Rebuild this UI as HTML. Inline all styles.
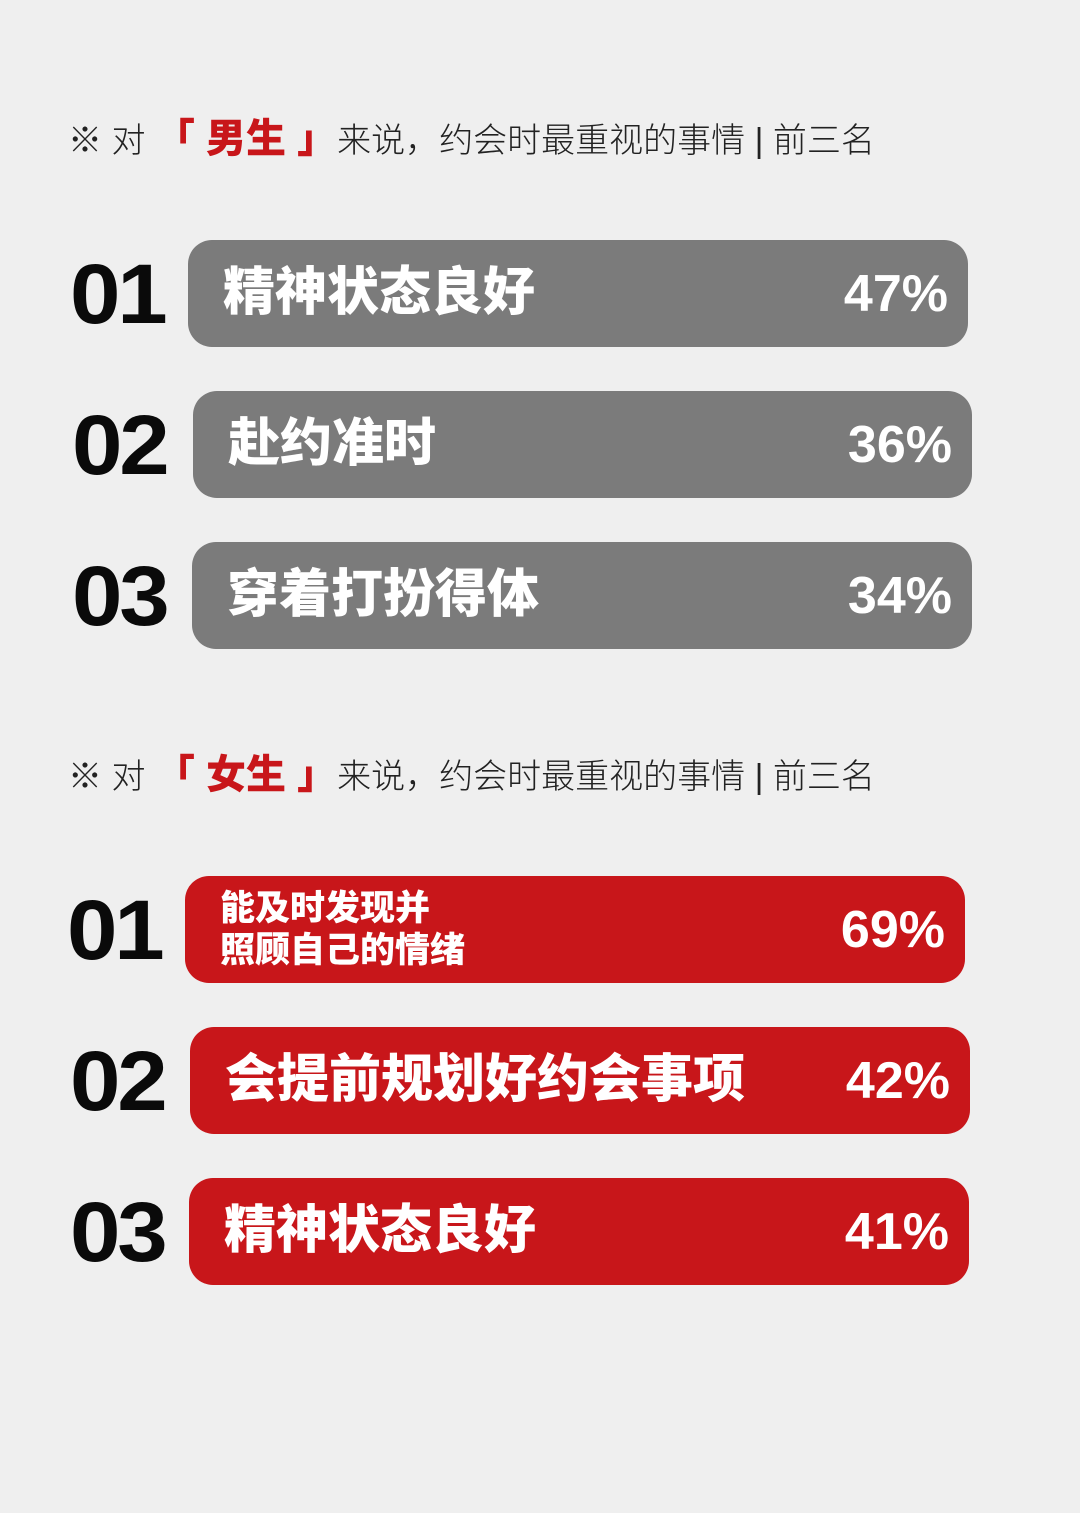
<!DOCTYPE html>
<html><head><meta charset="utf-8">
<style>
html,body{margin:0;padding:0}
body{width:1080px;height:1513px;background:#efefef;position:relative;overflow:hidden;font-family:"Liberation Sans","Noto Sans CJK SC",sans-serif}
.h{position:absolute;left:68px;font-size:34px;color:#222;white-space:nowrap;font-weight:300;letter-spacing:0px}
.h b{color:#c8161a;font-weight:900;font-size:40px;letter-spacing:0px}
.num{position:absolute;font-size:84px;font-weight:900;color:#0a0a0a;letter-spacing:-3px;line-height:1;transform:scaleX(1.08);transform-origin:left center}
.bar{position:absolute;height:107px;border-radius:24px}
.lab{position:absolute;left:35px;top:0;height:107px;display:flex;align-items:center;color:#fff;font-weight:900;font-size:52px;line-height:1.2;white-space:nowrap}
.lab.small{font-size:35px;line-height:42px}
.pct{position:absolute;right:20px;top:0;height:107px;display:flex;align-items:center;color:#fff;font-weight:900;font-size:52px}
</style></head><body>
<div class="h" style="top:106px">※ 对 <b>「 男生 」</b>来说，约会时最重视的事情 | 前三名</div>
<div class="h" style="top:742px">※ 对 <b>「 女生 」</b>来说，约会时最重视的事情 | 前三名</div>
<div id="root"></div>
<script>
const maleLabels=["精神状态良好","赴约准时","穿着打扮得体"];
const maleValues=[47,36,34];
const femaleLabels=["能及时发现并<br>照顾自己的情绪","会提前规划好约会事项","精神状态良好"];
const femaleValues=[69,42,41];
const ranks=["01","02","03"];
const groups=[
 {labels:maleLabels,values:maleValues,color:"#7b7b7b",name:"male",rows:[[188,240,780,70],[193,391,779,72],[192,542,780,72]]},
 {labels:femaleLabels,values:femaleValues,color:"#c8161a",name:"female",rows:[[185,876,780,67],[190,1027,780,70],[189,1178,780,70]]}
];
const root=document.getElementById('root');
groups.forEach(g=>{
 g.values.forEach((v,i)=>{
  const [x,y,w,nx]=g.rows[i];
  const n=document.createElement('div');
  n.className='num';
  
  
  n.style.left=nx+'px';n.style.top=(y+12)+'px';
  n.textContent=ranks[i];
  root.appendChild(n);
  const b=document.createElement('div');
  b.className='bar';
  
  
  b.style.left=x+'px';b.style.top=y+'px';b.style.width=w+'px';b.style.background=g.color;
  const l=document.createElement('div');
  l.className='lab'+(g.labels[i].includes('<br>')?' small':'');
  
  
  l.innerHTML=g.labels[i];
  const p=document.createElement('div');
  p.className='pct';
  
  
  p.textContent=v+'%';
  b.appendChild(l);b.appendChild(p);
  root.appendChild(b);
 });
});
</script>
</body></html>
